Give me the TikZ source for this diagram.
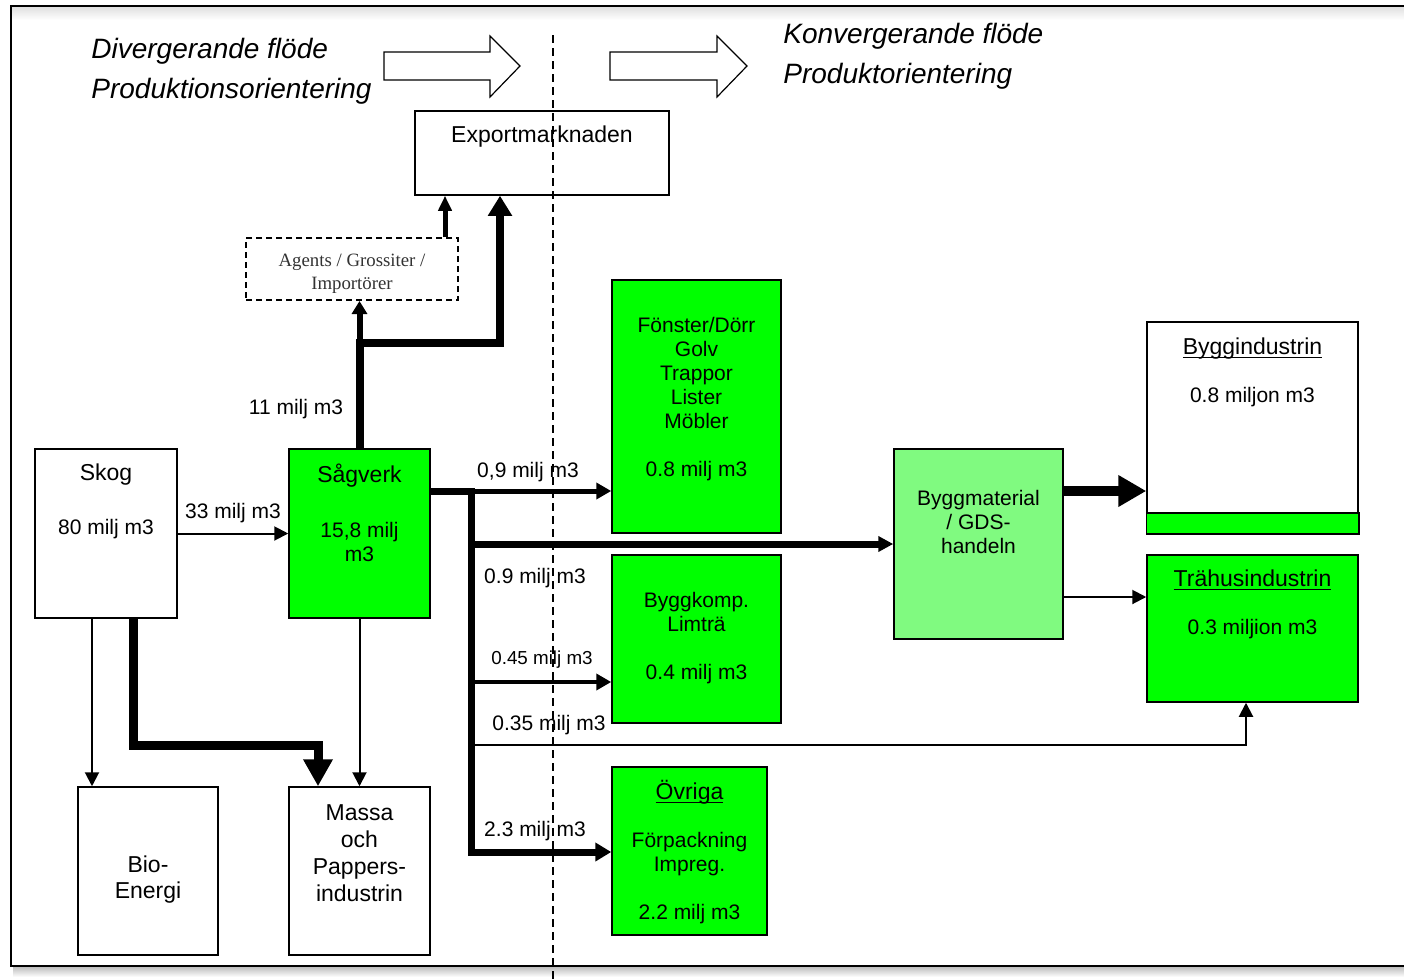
\documentclass[tikz,border=0pt]{standalone}
\usepackage{fontspec}
\setmainfont{Liberation Sans}
\newfontfamily\agentsfont{Liberation Serif}
\usetikzlibrary{arrows.meta,positioning}
\definecolor{sawgreen}{RGB}{0,255,0}
\definecolor{tradegreen}{RGB}{128,250,128}
\newcommand\hd[1]{{\fontsize{11.5}{12}\selectfont #1}}
\newcommand\headline[1]{\underline{\raisebox{0pt}[\height][0pt]{#1}}}
\begin{document}
\begin{tikzpicture}[
  x=0.5pt, y=-0.5pt,
  box/.style={draw, line width=0.75pt, inner sep=0pt},
  greenbox/.style={box, fill=sawgreen},
  txt/.style={align=center, inner sep=0pt, yshift=-1pt, font=\fontsize{10.5}{12}\selectfont},
  flowlabel/.style={inner sep=0pt, yshift=-1pt, font=\fontsize{10.5}{12}\selectfont},
  flowtitle/.style={anchor=base west, inner sep=0pt, font=\fontsize{14}{16}\selectfont\itshape},
  hollow/.style={draw, line width=0.6pt, fill=white},
  thinflow/.style={line width=1pt, -{Triangle[length=7pt,width=7pt]}},
  midflow/.style={line width=2.5pt, -{Triangle[length=7.5pt,width=8pt]}},
  thickflow/.style={line width=3.75pt, -{Triangle[length=8pt,width=9pt]}},
  bigflow/.style={line width=4.5pt, -{Triangle[length=13.5pt,width=14pt]}}
]
\useasboundingbox (0,0) rectangle (1404,980);

% frame
\fill[white] (0,0) rectangle (1404,980);
\shade[top color=black!12, bottom color=white] (12,7) rectangle (1404,20);
\shade[top color=black!25, bottom color=white] (13,967) rectangle (1404,977);
\draw[line width=0.75pt] (1420,6) -- (11,6) -- (11,966) -- (1420,966);

% headings and big arrows
\node[flowtitle] (divtitle) at (91,58) {Divergerande flöde};
\node[flowtitle] (prodtitle) at (91,98) {Produktionsorientering};
\node[flowtitle] (kontitle) at (783,43) {Konvergerande flöde};
\node[flowtitle] (produkttitle) at (783,83) {Produktorientering};
\draw[hollow] (384,52) -- (490,52) -- (490,36) -- (520,66) -- (490,97) -- (490,80) -- (384,80) -- cycle;
\draw[hollow] (610,52) -- (717,52) -- (717,36) -- (747,66) -- (717,97) -- (717,80) -- (610,80) -- cycle;

% boxes
\node[box, minimum width=127pt, minimum height=42pt] (export) at (542,153) {};
\node[txt, font=\fontsize{11.5}{12}\selectfont] (exporttxt) at (542,135) {Exportmarknaden};
\node[box, dashed, dash pattern=on 3pt off 2pt, line width=1pt, minimum width=106pt, minimum height=31pt] (agents) at (352,269) {};
\node[txt, font=\agentsfont\fontsize{9.4}{11.5}\selectfont, text=black!80] (agentstxt) at (352,272)
  {Agents / Grossiter /\\Importörer};
\node[box, minimum width=71pt, minimum height=84.5pt] (skog) at (106,533.5) {};
\node[txt] (skogtxt) at (106,499) {\hd{Skog}\\[15pt]80 milj m3};
\node[greenbox, minimum width=70.5pt, minimum height=84.5pt] (sagverk) at (359.5,533.5) {};
\node[txt] (sagverktxt) at (359.5,511) {\hd{Sågverk}\\[15.5pt]15,8 milj\\m3};
\node[box, minimum width=70pt, minimum height=84pt] (bio) at (148,871) {};
\node[txt, font=\fontsize{11.5}{13}\selectfont] (biotxt) at (148,878) {Bio-\\Energi};
\node[box, minimum width=70.5pt, minimum height=84pt] (massa) at (359.5,871) {};
\node[txt, font=\fontsize{11.5}{13.5}\selectfont] (massatxt) at (359.5,851) {Massa\\och\\Pappers-\\industrin};
\node[greenbox, minimum width=84.5pt, minimum height=126.5pt] (fonster) at (696.5,406.5) {};
\node[txt] (fonstertxt) at (696.5,397.5) {Fönster/Dörr\\Golv\\Trappor\\Lister\\Möbler\\[12pt]0.8 milj m3};
\node[greenbox, minimum width=84.5pt, minimum height=84pt] (byggkomp) at (696.5,639) {};
\node[txt] (byggkomptxt) at (696.5,636) {Byggkomp.\\Limträ\\[12pt]0.4 milj m3};
\node[greenbox, minimum width=77.5pt, minimum height=84pt] (ovriga) at (689.5,851) {};
\node[txt] (ovrigatxt) at (689.5,850.5) {\hd{\headline{Övriga}}\\[12pt]Förpackning\\Impreg.\\[12pt]2.2 milj m3};
\node[box, fill=tradegreen, minimum width=84.5pt, minimum height=95pt] (byggmat) at (978.5,544) {};
\node[txt] (byggmattxt) at (978.5,520) {Byggmaterial\\/ GDS-\\handeln};
\node[box, minimum width=105.5pt, minimum height=105.5pt] (byggind) at (1252.5,427.5) {};
\draw[line width=0.75pt, fill=sawgreen] (byggind.south west) rectangle ([yshift=10.5pt]byggind.south east);
\node[txt] (byggindtxt) at (1252.5,370) {\hd{\headline{Byggindustrin}}\\[12pt]0.8 miljon m3};
\node[greenbox, minimum width=105.5pt, minimum height=73.5pt] (trahus) at (1252.5,628.5) {};
\node[txt] (trahustxt) at (1252.5,602.5) {\hd{\headline{Trähusindustrin}}\\[12pt]0.3 miljion m3};

% flows from Skog
\draw[thinflow] (skog) -- (sagverk);
\draw[thinflow] ([xshift=-7pt]skog.south) -- ([xshift=-7pt]skog.south |- bio.north);
\coordinate (lowbend) at (318,745);
\draw[bigflow] ([xshift=13.5pt]skog.south) |- (lowbend) -- ([xshift=-20.75pt]massa.north);

% flows from Sagverk
\draw[thinflow] (sagverk) -- (massa);
\coordinate (junction) at (359.5,343);
\draw[line width=4pt, -{Triangle[length=10pt,width=11.5pt]}] (sagverk.north) -- (junction) -| ([xshift=-21pt]export.south);
\draw[line width=3pt, -{Triangle[length=6.5pt,width=7.5pt]}] (junction) -- (agents.south -| junction);
\draw[line width=2.5pt, -{Triangle[length=7.5pt,width=6.5pt]}] ([xshift=46.5pt]agents.north) -- ([xshift=46.5pt]agents.north |- export.south);
\coordinate (trunktop) at (471,491);
\coordinate (b2) at (471,544);
\coordinate (b3) at (471,682);
\coordinate (b4) at (471,745);
\coordinate (trunkbot) at (471,852);
\draw[line width=3.5pt, -{Triangle[length=8pt,width=9pt]}] (sagverk.east |- trunktop) -- (trunktop) -- (trunkbot) -- (trunkbot -| ovriga.west);
\draw[midflow] (trunktop) -- (trunktop -| fonster.west);
\draw[line width=3.5pt, -{Triangle[length=7.5pt,width=7.5pt]}] (b2) -- (byggmat);
\draw[line width=2pt, -{Triangle[length=7.5pt,width=8pt]}] (b3) -- (b3 -| byggkomp.west);
\draw[thinflow] (b4) -| ([xshift=-3.25pt]trahus.south);

% flows from Byggmaterial
\draw[line width=5.25pt, -{Triangle[length=14pt,width=15pt]}] (byggmat.east |- trunktop) -- (byggind.west |- trunktop);
\draw[thinflow] ([yshift=-26.5pt]byggmat.east) -- ([yshift=-26.5pt]byggmat.east -| trahus.west);

% flow labels
\node[flowlabel] (lab33) at (233,511) {33 milj m3};
\node[flowlabel] (lab11) at (296,407) {11 milj m3};
\node[flowlabel] (labfon) at (528,470) {0,9 milj m3};
\node[flowlabel] (labbygg) at (535,576) {0.9 milj m3};
\node[flowlabel, font=\fontsize{9.4}{11}\selectfont] (labkomp) at (542,658) {0.45 milj m3};
\node[flowlabel] (labtra) at (549,723) {0.35 milj m3};
\node[flowlabel] (labovr) at (535,829) {2.3 milj m3};

% divider
\draw[line width=0.6pt, dash pattern=on 4pt off 2.5pt] (553,35) -- (553,980);
\end{tikzpicture}
\end{document}
